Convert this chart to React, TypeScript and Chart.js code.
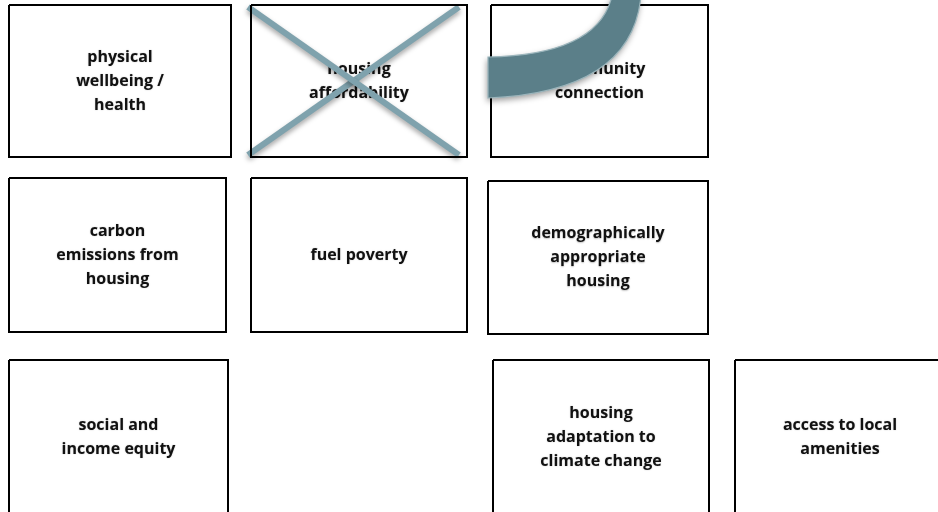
import React, { useEffect, useRef } from "react";
import { Chart, registerables } from "chart.js";

Chart.register(...registerables);

// Box labels (one per cell of the diagram), each label line separated by \n
const boxLabels = [
  "physical\nwellbeing /\nhealth",
  "housing\naffordability",
  "community\nconnection",
  "carbon\nemissions from\nhousing",
  "fuel poverty",
  "demographically\nappropriate\nhousing",
  "social and\nincome equity",
  "housing\nadaptation to\nclimate change",
  "access to local\namenities",
];
// Box extents in diagram units
const boxLeft = [9, 251, 491, 9, 251, 488, 9, 493, 735];
const boxRight = [231, 467, 708, 226, 467, 708, 228, 709, 945];
const boxTop = [5, 5, 5, 178, 178, 181, 360, 360, 360];
const boxBottom = [157, 157, 157, 332, 332, 334, 520, 520, 520];

// Cross over "housing affordability"
const crossA = [{ x: 248, y: 7 }, { x: 459, y: 155 }];
const crossB = [{ x: 459, y: 7 }, { x: 248, y: 155 }];

// Curved arrow band: outer and inner quadratic curves [start, control, end]
const arrowOuter = [[641, -4], [632, 92], [488, 98]];
const arrowInner = [[612, -4], [598, 55], [488, 57]];

const boxDatasets = boxLabels.map((label, i) => ({
  label,
  data: [
    { x: boxLeft[i], y: boxTop[i] },
    { x: boxRight[i], y: boxTop[i] },
    { x: boxRight[i], y: boxBottom[i] },
    { x: boxLeft[i], y: boxBottom[i] },
    { x: boxLeft[i], y: boxTop[i] },
  ],
  showLine: true,
  borderColor: "#000000",
  borderWidth: 2,
  pointRadius: 0,
  borderJoinStyle: "miter" as const,
  fill: false,
}));

export default function App() {
  const ref = useRef<HTMLCanvasElement>(null);
  useEffect(() => {
    if (!ref.current) return;
    const labelPlugin = {
      id: "boxText",
      beforeDatasetsDraw(chart: any) {
        const { ctx, scales } = chart;
        ctx.save();
        ctx.fillStyle = "#111111";
        ctx.font = "bold 16px 'Open Sans', Lato, sans-serif";
        ctx.textAlign = "center";
        ctx.textBaseline = "middle";
        ctx.shadowColor = "rgba(0,0,0,0.25)";
        ctx.shadowBlur = 1.5;
        ctx.shadowOffsetY = 0.5;
        boxLabels.forEach((lab, i) => {
          const lines = lab.split("\n");
          const cx = scales.x.getPixelForValue((boxLeft[i] + boxRight[i]) / 2);
          const b = Math.min(boxBottom[i], 514);
          const cy = scales.y.getPixelForValue((boxTop[i] + b) / 2);
          const lh = 24;
          lines.forEach((ln, k) => {
            ctx.fillText(ln, cx, cy + (k - (lines.length - 1) / 2) * lh);
          });
        });
        ctx.restore();
      },
      beforeDatasetDraw(chart: any, args: any) {
        const ds = chart.data.datasets[args.index];
        if (ds.label === "cross") {
          const ctx = chart.ctx;
          ctx.save();
          ctx.shadowColor = "rgba(0,0,0,0.35)";
          ctx.shadowBlur = 5;
          ctx.shadowOffsetY = 3;
        }
      },
      afterDatasetDraw(chart: any, args: any) {
        const ds = chart.data.datasets[args.index];
        if (ds.label === "cross") chart.ctx.restore();
      },
      afterDatasetsDraw(chart: any) {
        const { ctx, scales } = chart;
        const px = (p: number[]) => [scales.x.getPixelForValue(p[0]), scales.y.getPixelForValue(p[1])];
        const o = arrowOuter.map(px);
        const n = arrowInner.map(px);
        ctx.save();
        ctx.beginPath();
        ctx.moveTo(o[0][0], o[0][1]);
        ctx.quadraticCurveTo(o[1][0], o[1][1], o[2][0], o[2][1]);
        ctx.lineTo(n[2][0], n[2][1]);
        ctx.quadraticCurveTo(n[1][0], n[1][1], n[0][0], n[0][1]);
        ctx.closePath();
        ctx.shadowColor = "rgba(0,0,0,0.4)";
        ctx.shadowBlur = 6;
        ctx.shadowOffsetX = -1;
        ctx.shadowOffsetY = 3;
        ctx.fillStyle = "#5b7f89";
        ctx.fill();
        ctx.shadowColor = "transparent";
        ctx.lineWidth = 1.2;
        ctx.strokeStyle = "#9bb5bc";
        ctx.stroke();
        ctx.restore();
      },
    };
    const chart = new Chart(ref.current, {
      type: "scatter",
      data: {
        datasets: [
          ...boxDatasets,
          {
            label: "cross",
            data: crossA,
            showLine: true,
            borderColor: "#7fa2ad",
            borderWidth: 6,
            pointRadius: 0,
            borderCapStyle: "butt",
          } as any,
          {
            label: "cross",
            data: crossB,
            showLine: true,
            borderColor: "#7fa2ad",
            borderWidth: 6,
            pointRadius: 0,
            borderCapStyle: "butt",
          } as any,
        ],
      },
      options: {
        animation: false,
        responsive: false,
        maintainAspectRatio: false,
        layout: { padding: 0 },
        plugins: { legend: { display: false }, tooltip: { enabled: false } },
        scales: {
          x: { type: "linear", min: 0, max: 938, display: false },
          y: { type: "linear", min: 0, max: 512, reverse: true, display: false },
        },
      },
      plugins: [labelPlugin],
    });
    return () => chart.destroy();
  }, []);
  return (
    <div style={{ position: "fixed", left: 0, top: 0, width: 938, height: 512, background: "#ffffff" }}>
      <canvas ref={ref} width={938} height={512} style={{ width: 938, height: 512 }} />
    </div>
  );
}
